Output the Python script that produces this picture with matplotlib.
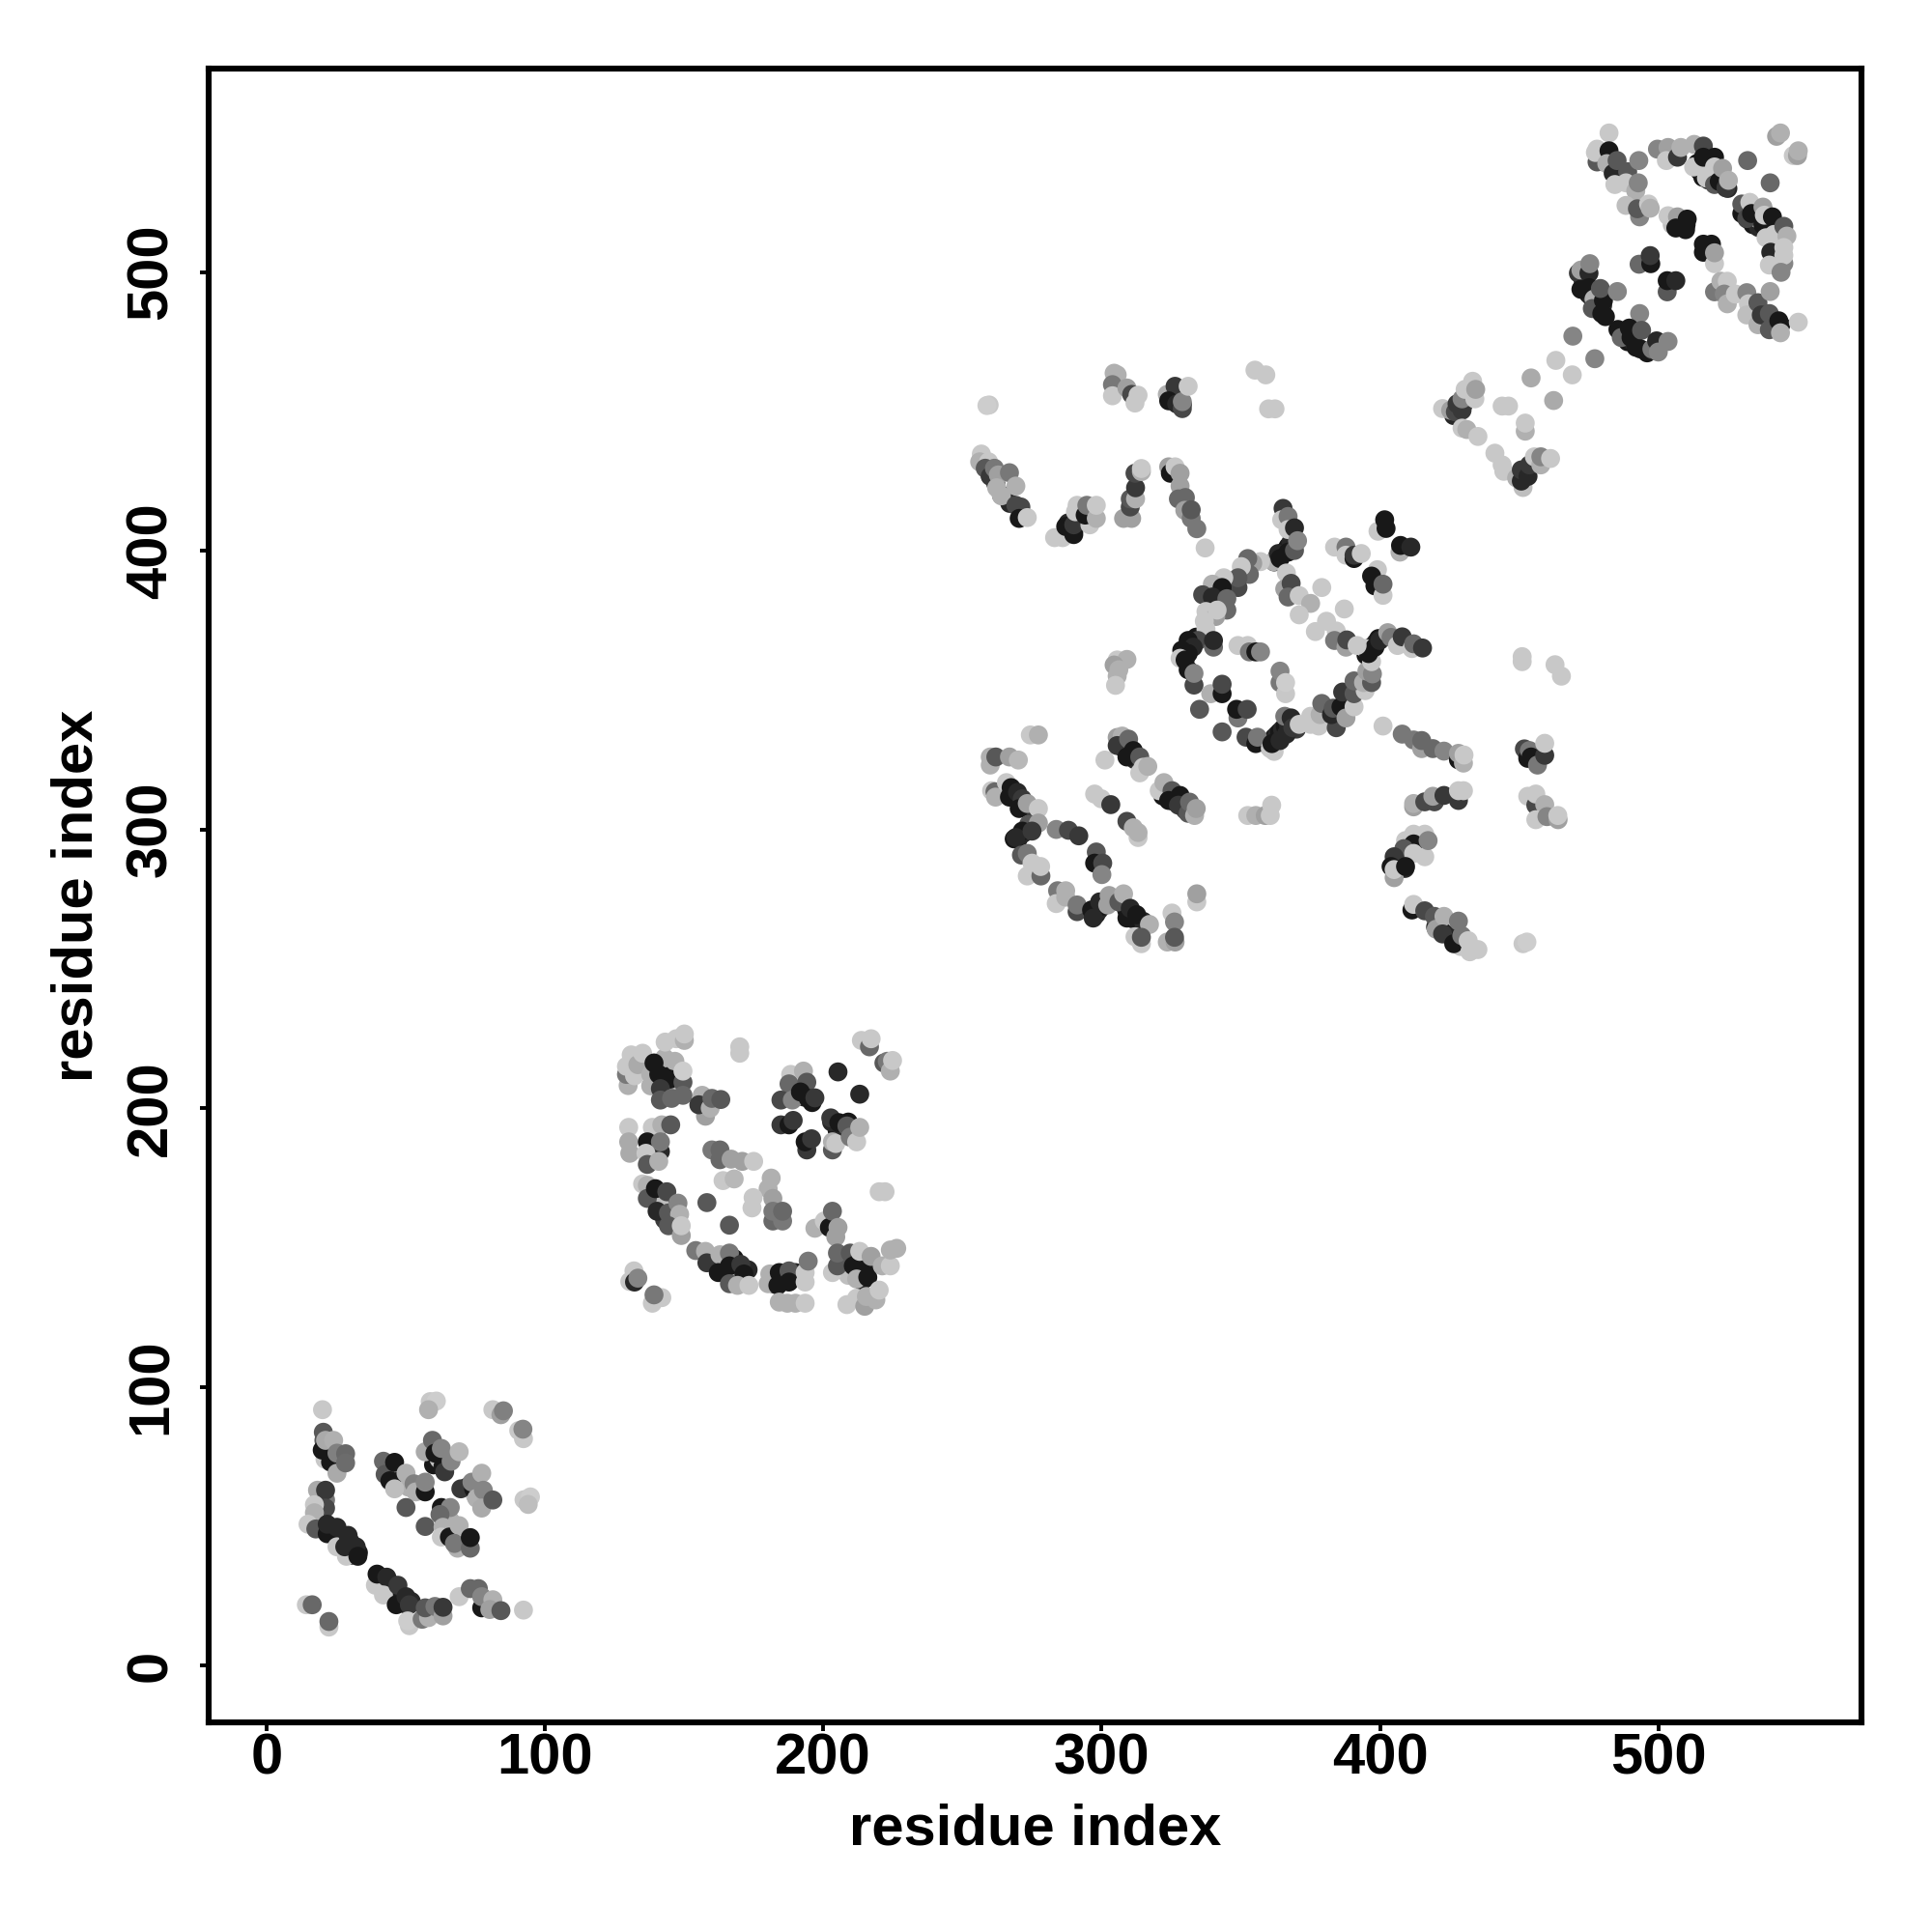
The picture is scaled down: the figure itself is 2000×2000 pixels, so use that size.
"""Residue contact map: grey dots for contacts, darker means stronger."""

import matplotlib
matplotlib.use("Agg")
import matplotlib.pyplot as plt
import numpy as np

plt.rcParams["font.family"] = ["Liberation Sans", "DejaVu Sans"]
plt.rcParams["font.weight"] = "bold"

TICKS = [0, 100, 200, 300, 400, 500]
AXIS_LABEL = "residue index"

# each row is residue x, residue y, grey level (0-255)
# dense runs sit underneath the rest, only their edges show in places
DENSE_RUNS = [
    (23, 49, 40), (24, 47.5, 30), (27, 46, 40), (27, 43.5, 30), (30, 44.5, 40), (31, 41, 30),
    (30, 39.5, 30), (33, 40.5, 24), (41, 31, 30), (42, 29, 24), (44, 30, 40), (45, 27, 30),
    (46, 26, 40), (48, 25, 30), (49, 23, 40), (50, 22, 30), (52, 23, 40),
    (44, 68, 190), (47, 66, 24), (51, 64, 176), (55, 63, 40), (60, 72, 24), (62, 74, 190),
    (72, 64, 40), (75, 61, 190), (64, 50, 24), (66, 52, 176), (67, 48, 24), (69, 45, 190),
    (21, 74, 200), (23, 73, 24), (20, 55, 190), (19, 52, 176),
    (138, 208, 176), (142, 214, 24), (144, 206, 24), (147, 206, 176), (143, 218, 176),
    (139, 182, 40), (138, 184, 190), (140, 190, 24), (143, 168, 24), (141, 166, 190),
    (146, 160, 24), (143, 160, 60), (168, 146, 24), (168, 141, 190), (173, 142, 40),
    (182, 137, 40), (186, 139, 24), (190, 141, 40), (206, 144, 40), (208, 146, 24), (212, 141, 24),
    (215, 142, 24), (214, 138, 40), (209, 140, 190), (192, 207, 24), (193, 204, 40), (196, 202, 24),
    (190, 204, 190), (205, 192, 24), (207, 191, 40), (209, 195, 24), (203, 195, 40),
    (268.5, 313, 24), (270, 312, 40), (271, 310, 24), (272.5, 309.5, 40), (274, 308, 60),
    (270, 296.5, 24), (271, 298, 40), (272.5, 299, 24), (274, 300.5, 40), (275, 302, 24), (276, 303.5, 60),
    (298, 269.5, 24), (299, 271, 40), (300.5, 272.5, 24), (301, 274, 40),
    (307, 274, 24), (308.5, 272.5, 40), (309, 271, 24), (311, 270, 40), (311, 268, 24), (313, 268, 40),
    (314, 267, 24), (315, 267, 40), (307, 331, 24), (308, 329, 40), (310, 327, 24), (312, 325, 40),
    (322, 312, 24), (326, 310, 24), (328, 309, 60), (330, 307, 72),
    (260, 427, 24), (262, 424, 40), (264, 420, 24), (267, 417, 40), (290, 407, 24), (288, 410, 40),
    (294, 412, 24), (325, 456, 24), (327, 454, 40), (329, 452.5, 24),
    (330, 362, 24), (331, 364, 40), (332, 366, 24), (333, 368, 40), (334, 369, 24), (329.5, 363.5, 40),
    (360, 330, 24), (361, 331.5, 40), (362, 333, 24), (363, 334, 40), (364, 335, 24), (365, 336, 40),
    (366, 337, 24), (367, 338, 40), (362, 328, 200), (370, 336, 60),
    (362, 396, 24), (363, 397.5, 40), (365, 399, 24), (366, 400, 40), (367, 401.5, 24), (368, 403, 40),
    (395, 362.5, 24), (396.5, 364, 40), (397, 365.5, 24), (398.5, 367, 40), (399.5, 368.5, 24),
    (407, 288, 24), (409, 291, 176), (412, 296, 24), (409, 286, 40),
    (420, 265, 40), (422, 264, 24), (425, 262, 40), (427, 260, 24), (429, 258, 200),
    (455, 327, 24), (456, 325, 40), (453, 327, 60),
    (426.5, 448.5, 40), (427.5, 450, 24), (428.5, 451.5, 40), (430, 452.5, 60),
    (450.5, 427, 40), (452, 428, 24), (453.5, 429.5, 40), (455, 431, 60),
    (473, 497, 24), (474, 495, 40), (475, 492, 24), (476, 491, 40), (477, 489, 24), (478, 487, 40),
    (479, 486, 24), (480, 488, 40), (481, 484, 24), (487, 477, 40), (489, 475, 24), (491, 475, 40),
    (492, 473, 24), (496, 471, 24), (498, 472, 40), (500, 473, 24), (479, 491, 190),
    (514, 539, 24), (515, 536, 40), (516, 534, 24), (518, 533, 40), (519, 535, 24), (521, 534, 40),
    (523, 532, 24), (525, 530, 40), (517, 537, 200), (522, 536, 200),
    (530, 521, 24), (532, 519, 40), (534, 517, 24), (536, 516, 40), (539, 517, 24), (542, 516, 40),
    (536, 519, 200), (534, 522, 160), (540, 515, 190),
    (536, 487, 40), (538, 483, 24), (541, 482, 40), (544, 481, 24), (486, 536, 24), (486, 533, 60),
    (510, 517, 24), (507, 517, 40), (505, 517, 190), (518, 508, 24),
]

DOMAIN_ONE = [
    (20.1, 91.8, 200), (58.8, 94.7, 200), (61, 94.9, 205), (58.2, 91.8, 176), (81.3, 91.8, 200),
    (84.2, 90, 160), (85.1, 91.4, 128), (90.6, 84.3, 200), (92.3, 81.4, 200), (92.1, 84.8, 133),
    (20.4, 83.7, 88), (20.6, 80.8, 88), (20, 77.3, 24), (21.2, 80.8, 170), (24.1, 80.8, 176),
    (25.3, 69, 170), (25.3, 76.2, 128), (28.4, 76, 104), (28.4, 72.7, 108),
    (42, 73.3, 104), (42.6, 68.6, 88), (44.3, 66.3, 24), (46, 63.4, 190), (46, 72.9, 24),
    (50.1, 69, 176), (53, 65.2, 128), (53.6, 62.3, 176), (57, 62.3, 24), (57, 65.8, 133),
    (50.1, 56.7, 88), (57, 76.7, 170), (59.6, 80.8, 104), (63.4, 71.5, 24), (60.5, 76.2, 24),
    (62.8, 77.9, 133), (64, 69.5, 56), (66.3, 73.3, 133), (69.2, 76.7, 184),
    (69.8, 63.4, 56), (74.4, 63.4, 24), (73.8, 65.8, 133), (77.3, 69, 176), (75.5, 60, 176),
    (77.9, 62.9, 133), (77.3, 56.5, 170), (81.3, 59.4, 88), (62.8, 56.7, 24), (66, 56.7, 133),
    (57, 49.9, 88), (62.3, 54.2, 104), (63.4, 49.6, 176), (62.8, 46.1, 200), (65.7, 46.1, 24),
    (69.2, 50.2, 176), (68.6, 42.1, 176), (67.5, 43.8, 120), (73.2, 42.1, 104), (73.2, 45.9, 24),
    (92.5, 59.5, 200), (94.8, 60.5, 205), (94, 57.8, 190),
    (18.3, 62.9, 170), (21.2, 59.4, 120), (21.2, 62.9, 56), (21.2, 56.5, 72), (17.2, 57.7, 200),
    (17.2, 54.8, 176), (14.9, 50.7, 200), (17.7, 49, 88), (21.8, 47.3, 24), (21.8, 50.7, 40),
    (25.3, 42.6, 200), (25.3, 49.6, 40), (29.3, 46.7, 40), (28.7, 39.2, 200), (28.1, 42.6, 40),
    (32.2, 42.6, 40), (32.8, 39.2, 24), (39.1, 28.8, 200), (39.7, 32.8, 24), (43.2, 31.7, 40),
    (42, 25.3, 200), (47.2, 28.8, 56), (46.6, 21.8, 24), (50.1, 24.7, 40), (51.3, 21.8, 56),
    (51.3, 14.3, 200), (50.7, 16, 205), (55.9, 16.6, 120), (58.2, 17.2, 176), (57, 20.7, 88),
    (60.5, 21.2, 120), (63.4, 17.8, 160), (63.4, 20.9, 56), (69.2, 24.7, 200), (73.2, 27.6, 104),
    (76.1, 27.6, 104), (77.3, 20.7, 24), (77.3, 24.7, 133), (81.3, 23.6, 176), (80.2, 20.1, 160),
    (84.2, 19.7, 88), (92.3, 19.9, 200), (14.3, 21.8, 200), (16.4, 21.8, 104), (22.4, 13.8, 200),
    (22.4, 15.8, 104),
]

DOMAIN_TWO = [
    (129.9, 208.1, 176), (129.3, 212.1, 120), (129.3, 215, 200), (132.2, 211.6, 200), (131, 219.1, 200),
    (133.4, 215.6, 170), (135.1, 219.7, 200), (143.2, 223.7, 200), (147.2, 224.9, 200), (150.1, 224.3, 176),
    (150.1, 226.6, 200), (138, 212.1, 176), (139.2, 216.2, 24), (140.9, 212.1, 24), (146.7, 216.8, 176),
    (144.9, 210.4, 24), (141.5, 207, 56), (141.5, 202.9, 88), (145.5, 203.5, 104), (149.6, 209.3, 88),
    (149.6, 204.6, 104), (149.6, 213.3, 205), (156.5, 204.6, 176), (157.7, 197.1, 160), (155.3, 201.2, 56),
    (159.4, 200, 176), (160, 203.5, 104), (163.2, 203.1, 88),
    (130.1, 193.1, 200), (130.1, 187.9, 170), (130.5, 183.8, 170), (138.6, 193.1, 200), (142, 194, 176),
    (145.2, 194, 88), (136.8, 187.9, 24), (141.5, 184.4, 40), (141.5, 187.9, 120), (136.3, 183.8, 200),
    (136.8, 179.8, 88), (140.9, 180.9, 176),
    (135.1, 172.8, 200), (136.8, 172.3, 176), (136.8, 167.6, 88), (139.7, 171.1, 24), (143.8, 170, 72),
    (140.3, 163, 40), (144.4, 162.4, 88), (147.8, 165.9, 133), (148.4, 161.9, 176), (144.4, 157.8, 88),
    (149, 154.3, 160), (149, 157.8, 200), (158.2, 166.1, 88), (166.3, 158, 88),
    (160, 185, 120), (162.9, 185, 104), (162.9, 181.5, 104), (166.9, 181.7, 160), (170.9, 180.9, 160),
    (175, 180.9, 200), (164, 174, 200), (168, 174.6, 184),
    (181.3, 174.9, 176), (180.2, 171.1, 176), (174.8, 167.9, 200), (174.4, 164.2, 200), (181.9, 167.6, 160),
    (181.9, 159.5, 104), (185.4, 159.5, 120), (181.9, 163, 120), (185.4, 163, 104),
    (170, 219.7, 200), (170, 222, 200),
    (188.3, 212.1, 200), (192.9, 213.3, 176), (187.7, 208.7, 104), (194.1, 209.3, 88), (184.8, 202.9, 72),
    (188.9, 202.9, 133), (191.8, 205.8, 24), (194.6, 203.5, 24), (197, 203.7, 56), (205.3, 213, 40),
    (213.1, 205, 40), (184.8, 194, 56), (187.7, 194, 24), (189.2, 195.6, 56),
    (194.1, 185, 56), (193.5, 187.9, 24), (195.8, 189, 56), (203.3, 185, 88), (203.3, 187.9, 176),
    (204.5, 187.3, 200), (202.7, 196.5, 56), (205.6, 194.8, 24), (208.5, 193.6, 88), (209.7, 189.6, 120),
    (212, 187.9, 200), (213.1, 193.1, 176),
    (213.7, 224.3, 200), (216.6, 222, 104), (217.2, 224.9, 200), (221.8, 216.2, 88), (223, 216.8, 120),
    (224.1, 213.3, 176), (224.9, 217.1, 200), (220.1, 170, 200), (222.2, 170, 200),
    (197, 156.9, 176), (200.4, 159.5, 200), (202.2, 157.2, 24), (203.3, 163, 104), (204.5, 153.8, 160),
    (205.3, 157.2, 160), (203.3, 141, 200), (205.1, 143.4, 88), (205.1, 148, 104), (209.7, 148, 88),
    (210.8, 143.4, 24), (212, 138.7, 176), (213.1, 145.7, 24), (213.1, 148.6, 200), (216, 139.3, 24),
    (217.2, 146.8, 160), (221.2, 143.4, 176), (224.1, 143.4, 200), (224.1, 149.1, 176), (226.4, 149.7, 176),
    (208.5, 129.5, 200), (212, 131.8, 200), (214.9, 128.9, 160), (215.5, 132.4, 176), (218.9, 131.2, 176),
    (220.1, 134.7, 200),
    (180.2, 137, 176), (180.8, 140.5, 176), (183.7, 136.4, 24), (184.2, 141, 24), (187.7, 141.6, 88),
    (187.7, 137.6, 24), (193.5, 137.6, 200), (193.5, 141, 200), (194.6, 145.1, 120),
    (184.2, 130.4, 176), (187.1, 130, 176), (190, 130, 176), (193.5, 130, 200),
    (154.2, 148.9, 120), (157.7, 148.6, 176), (158.2, 144.5, 56), (162.9, 147.4, 176), (166.3, 148, 120),
    (162.3, 141, 24), (166.3, 143.4, 24), (170.4, 143.9, 56), (166.3, 137, 88), (171.5, 140.5, 24),
    (169.2, 136.4, 176), (173.3, 136.4, 200),
    (132, 141.6, 200), (130.5, 137.8, 200), (132.2, 137.6, 40), (133.4, 139, 133), (142, 132, 200),
    (138.6, 130, 200), (139.2, 133, 120),
]

DOMAIN_THREE_LOW = [
    (274.4, 333.9, 200), (277.3, 333.9, 176), (260, 326, 176), (260, 323.1, 176), (262, 326, 88),
    (266.9, 326, 160), (270.1, 324.9, 184),
    (260.5, 313.9, 200), (261.7, 313.5, 104), (261.9, 311.6, 176), (265.8, 316.8, 200), (267.5, 315, 24),
    (266.9, 311.6, 24), (269.8, 313.3, 40), (271.5, 311, 56), (270.4, 307.5, 24), (273.3, 309.3, 160),
    (277.3, 307.5, 200), (273.8, 301.8, 88), (277.3, 302.3, 160), (272.1, 298.9, 40), (268.6, 296.6, 24),
    (271.5, 299.4, 24), (269.2, 297.1, 40), (275, 299.4, 56),
    (271.2, 290.8, 88), (273.3, 291.4, 120), (275, 287.9, 200), (273.3, 283.3, 200), (278.2, 283.3, 104),
    (278.1, 286.7, 200),
    (284.2, 278, 120), (283.7, 273.4, 200), (287.1, 278, 176), (287.1, 275.7, 176), (291.2, 270.5, 72),
    (291.2, 272.9, 120), (283.7, 300, 133), (288.1, 299.7, 72), (291.8, 297.7, 56),
    (298.1, 291.9, 88), (297.5, 287.9, 24), (300.4, 287.9, 72), (300.1, 283.8, 133),
    (296.4, 271.1, 24), (297, 268.2, 40), (299.3, 274, 40), (302.7, 276.3, 160), (302.2, 272.9, 160),
    (306.2, 274, 88), (307.9, 276.9, 176), (309.1, 268.2, 24), (310.3, 271.7, 40), (312.6, 269.4, 24),
    (317.2, 265.9, 176), (312, 261.5, 200), (314.3, 259, 200), (314.3, 261.3, 88),
    (325.3, 270, 200), (326.2, 266.8, 133), (323.6, 259.6, 176), (326.4, 259.6, 160), (326.2, 261.3, 88),
    (334.2, 274, 200), (334.2, 276.9, 160),
    (297.5, 312.7, 200), (299.9, 311, 200), (303.3, 308.9, 56), (309.1, 302.9, 72), (311.4, 300.6, 176),
    (313.1, 297.1, 200), (313.1, 298.9, 176), (301.2, 324.9, 200),
    (305.6, 333, 160), (307.4, 333.5, 176), (305.6, 330.1, 56), (309.7, 332.4, 104), (309.1, 326, 24),
    (311.4, 328.3, 24), (313.7, 326, 88), (313.7, 320.3, 200), (314.9, 322.3, 200), (316.6, 322.6, 176),
    (320.7, 313.9, 200), (322.4, 316.8, 176), (325.3, 313.9, 88), (324.1, 310.4, 24), (328.2, 312.2, 24),
    (327.6, 308.7, 56), (331.1, 305.8, 88), (331.6, 309.8, 104), (333.4, 305, 176), (334, 307.5, 160),
    (352.5, 305, 200), (355.4, 305, 176), (358.8, 305, 160), (360.6, 305, 200), (361.1, 308.7, 200),
]

DOMAIN_THREE_HIGH = [
    (259.6, 452.3, 200), (258.8, 452.1, 205), (304.5, 463.7, 176), (305.6, 463.1, 176), (303.9, 459.6, 120),
    (303.9, 455.6, 200), (309.1, 458.4, 160), (310.8, 456.1, 72), (313.1, 455.8, 200), (312, 453, 200),
    (323.6, 456.1, 176), (326.4, 459, 56), (324.1, 453.8, 24), (327, 452.7, 40), (329, 451, 72),
    (329, 453.5, 133), (331.1, 459, 200), (355.1, 464.8, 200), (359, 463.1, 200), (360, 450.9, 200),
    (362.3, 450.9, 200),
    (256.8, 434.7, 200), (256.2, 431.9, 176), (259.4, 431.9, 200), (258.2, 429.6, 88), (260, 426.7, 56),
    (261.5, 429.6, 120), (262.9, 427.2, 160), (266.9, 428, 120), (262.3, 422.6, 176), (264, 419.7, 176),
    (269.2, 423.2, 176), (269.2, 416.3, 72), (271, 415.7, 72), (270.4, 411.6, 24), (273.3, 411.9, 200),
    (283.1, 404.7, 200), (286, 404.7, 200), (287.1, 408.7, 24), (290, 405.8, 24), (290, 409.3, 56),
    (290.6, 414, 200), (291.2, 416.3, 200), (295.8, 409.3, 200), (294.1, 412.8, 24), (294.7, 416.3, 120),
    (298.1, 411.6, 176), (298.1, 416.3, 200),
    (307.9, 411.6, 160), (310.8, 411.6, 160), (310.3, 415.7, 72), (310.3, 418.6, 88), (312.2, 418.6, 176),
    (312.2, 422.6, 56), (312, 427.8, 72), (314.3, 428.4, 176), (314.3, 429.5, 200),
    (324.1, 430.1, 160), (324.7, 427.8, 24), (326.4, 430.1, 200), (328.2, 427.8, 160), (328.2, 423.2, 160),
    (327.6, 418.6, 104), (330.1, 419.1, 104), (329.9, 414.5, 160), (332.2, 411.6, 120), (332.2, 414.7, 88),
    (334.2, 407.9, 120), (337.2, 401, 200),
    (305.6, 360.8, 200), (309.1, 361, 176), (304.5, 359, 160), (306.2, 357.3, 176), (305.6, 355, 176),
    (305, 351.7, 200),
]

RING = [
    (365.2, 415.2, 56), (364.7, 411.1, 200), (367, 412.3, 120), (367, 407.6, 200), (369.3, 408.2, 40),
    (361.8, 396.1, 176), (363.5, 399, 40), (364.1, 397.2, 24), (367, 399.5, 24), (369.3, 400.1, 88),
    (370.4, 403.6, 133), (357.1, 396.1, 200), (354.3, 395.5, 160), (352.5, 397.2, 104), (353.1, 391.5, 104),
    (350.2, 394.3, 200), (349, 386.8, 72), (349, 390.3, 88), (343.9, 390.3, 200), (339.8, 388, 176),
    (343.3, 386.8, 24), (336.3, 384.2, 72), (339.8, 383.4, 40), (345, 382.8, 104), (345, 378.7, 104),
    (337.5, 378.2, 200), (341, 376.4, 160), (341.5, 378.7, 200), (336.9, 374.7, 200), (337.5, 371.8, 200),
    (334.6, 367.8, 72), (331.1, 367.8, 24), (332.9, 365.4, 40), (328.8, 364.3, 24), (331.1, 363.1, 24),
    (328.2, 361.4, 200), (330, 360.8, 24), (331.1, 357.3, 24), (333.2, 351.8, 72), (333.2, 356, 133),
    (340.2, 365.4, 104), (340.2, 367.8, 40),
    (349, 366, 200), (352.5, 366, 200), (353.1, 363.7, 120), (355.4, 363.7, 24), (357.1, 363.7, 133),
    (364.1, 352.7, 120), (364.1, 356.8, 133), (366.1, 348.7, 200), (366.1, 352.7, 205),
    (339.2, 348.7, 176), (343.3, 348.7, 24), (343.3, 352.1, 72), (335.2, 343.1, 88), (349, 340, 120),
    (348.5, 343.1, 24), (352.3, 343.1, 72), (343.3, 335, 88),
    (351.9, 333.1, 72), (355.4, 330.8, 24), (356, 333.1, 120), (360.6, 329, 200), (361.2, 330.8, 24),
    (364.1, 331.9, 40), (366.4, 334.2, 40), (365.8, 340.6, 120), (368.1, 340, 40), (368.7, 336.5, 56),
    (371, 337.7, 200), (375.1, 337.7, 200), (375.1, 340.6, 200), (378, 337.1, 200), (378.5, 341.2, 176),
    (379.1, 345.2, 104), (384.3, 336.5, 72), (382.6, 341.2, 40), (383.2, 343.5, 88), (386, 344, 24),
    (387.8, 340, 160), (390.7, 344, 200), (386.6, 349.3, 56), (390.7, 348.7, 88), (394.7, 349.8, 200),
    (390.7, 353.3, 104), (394.1, 352.7, 176), (397, 352.7, 88), (395.3, 356.8, 160), (397.3, 355.8, 133),
    (397, 360.2, 200), (394.7, 364.9, 200), (395.9, 363.1, 24), (398.2, 365.4, 24), (399.9, 367.8, 40),
    (402.8, 370.6, 160), (404, 368.9, 120), (406.3, 366, 200), (408, 369.1, 56), (411.5, 364.9, 200),
    (412.1, 366.6, 104), (415.3, 365.1, 56),
    (383.7, 401.3, 200), (387.8, 401.3, 120), (387.8, 398.4, 200), (390.7, 397.2, 24), (390.7, 398.4, 56),
    (393.3, 399, 200),
    (399.3, 407, 200), (401.7, 411.1, 24), (402.2, 408, 24), (407.2, 399.5, 176), (407.4, 401.9, 24),
    (411.1, 401.3, 40), (399.1, 393.2, 200), (397, 390.9, 24), (398.2, 387.4, 24), (401.1, 384, 200),
    (401.1, 388, 104),
    (366.4, 392, 200), (365.8, 386.3, 160), (368.1, 388.3, 72), (367, 383.4, 104), (371, 383.9, 200),
    (375.1, 381.1, 176), (371, 377, 200), (379.1, 386.8, 200), (387.2, 379.1, 200),
    (380.8, 374.7, 200), (376.8, 371, 200), (384.3, 371.2, 200), (383.7, 367.8, 120), (387.8, 365.4, 160),
    (388.1, 368, 72), (391.8, 366, 200), (401.1, 337.1, 200),
    (408, 334.2, 120), (412.1, 332.1, 120), (415, 329, 160), (415, 331.9, 104), (419, 329, 104),
    (423, 328.1, 133), (428.2, 325, 24), (428.2, 327.3, 160), (430, 323.8, 176), (430.2, 326.7, 200),
    (451.1, 362, 200), (451.1, 360.2, 200), (462.9, 359.1, 200), (465.2, 355, 200),
]

RIGHT_OF_RING = [
    (451.9, 328.9, 72), (453.1, 325.5, 24), (453.7, 328.3, 120), (454.3, 326, 24), (456.6, 323.1, 120),
    (459.2, 326.6, 56), (459.2, 330.9, 200),
    (453.1, 311.9, 200), (456, 308.7, 72), (456, 312.7, 200), (459.2, 308.9, 176), (456, 303.5, 200),
    (460, 304.6, 133), (464, 303.5, 160), (463.9, 305, 200),
    (412.1, 308.1, 160), (412.1, 309.3, 176), (416.1, 309.9, 72), (419.6, 309.9, 72), (419, 311.9, 160),
    (423, 312.2, 56), (428.2, 310.4, 56), (428.2, 313.9, 200), (430, 313.9, 200),
    (412.1, 298.3, 200), (416.1, 298.3, 200), (409.2, 296, 200), (412.1, 294.8, 24), (408.6, 293.1, 88),
    (405.1, 290.2, 56), (412.1, 291.4, 200), (416.1, 290.2, 200), (417.3, 296, 133), (404, 286.7, 24),
    (405.1, 282.7, 160), (405.1, 285.6, 200), (409.2, 286.7, 24),
    (411.5, 271.1, 24), (412.1, 273.1, 200), (416.1, 270.8, 72), (419.6, 268.8, 88), (420.2, 264.2, 160),
    (423, 268.8, 176), (422.5, 262.5, 56), (426.5, 259, 24), (428.2, 267.1, 120), (429.4, 261.9, 120),
    (431.7, 260.1, 200), (432.3, 256.1, 200), (435.2, 256.9, 200), (451.4, 259, 200), (452.8, 259.6, 205),
]

LINK_TO_TOP = [
    (422.5, 451, 200), (425.4, 450.4, 160), (427.1, 449.8, 72), (427.7, 452.7, 56), (429.5, 450.4, 56),
    (429.5, 454.5, 133), (430.6, 457.9, 200), (433.3, 460.8, 200), (434.1, 454.5, 200), (434.4, 457.9, 160),
    (429.5, 444, 200), (431.2, 443.5, 176), (435.2, 441, 200), (443.9, 451.9, 200), (446.2, 451.9, 200),
    (452.2, 442.9, 176), (452.2, 445.8, 200), (454.3, 462, 170), (462.4, 453.9, 170), (463.2, 468.3, 200),
    (469.1, 463.1, 200), (477.2, 468.9, 133), (469.3, 477, 133),
    (441.3, 435, 200), (443.9, 430.8, 200), (444.5, 428.5, 200), (451.4, 422.7, 190), (449.1, 426.1, 176),
    (450.8, 425, 40), (450.8, 429, 56), (453.2, 426.7, 40), (453.7, 430.8, 56), (455.5, 433.7, 200),
    (457.8, 430.8, 176), (457.8, 433.7, 133), (461.3, 433.1, 200),
]

DOMAIN_FOUR = [
    (482.3, 549.9, 200), (478, 539.5, 88), (478, 544.1, 200), (477.4, 542.9, 200), (482.3, 543.5, 24),
    (481.5, 538.9, 176), (483.8, 535.4, 40), (485.2, 540, 88), (484.4, 531.4, 200), (489, 536, 88),
    (493, 540, 133), (488.4, 532, 200), (491.9, 529.1, 176), (492.8, 532, 133),
    (488.4, 523.9, 190), (493.3, 519.8, 133), (492.5, 522.7, 88), (496.5, 524.4, 200), (497.1, 522.9, 176),
    (499.7, 544.1, 133), (503.5, 544.7, 160), (502.9, 540, 200), (506.9, 541.2, 56), (508.1, 544.7, 176),
    (512.7, 537.7, 200), (512.9, 545.8, 176), (516.2, 545.2, 72), (516.2, 541.2, 24), (520.2, 541.2, 24),
    (517.3, 533.7, 200), (520.2, 537.7, 200), (520.2, 531.4, 88), (521.9, 532.5, 24), (524.3, 530.2, 56),
    (523.1, 537.2, 160), (525.2, 532.9, 176), (532.1, 540, 104), (540.2, 532, 104),
    (542.5, 548.7, 160), (543.9, 549.9, 176), (548.5, 541.8, 200), (550, 541.8, 160), (550.3, 543.5, 176),
    (530, 524.4, 88), (531.8, 519.2, 72), (532.9, 525, 200), (533.5, 521, 24), (537.6, 516.9, 24),
    (537.6, 523.3, 160), (538.1, 520.4, 200), (541, 519.8, 24), (538.7, 512.3, 200), (541.6, 513.5, 200),
    (545.1, 516.4, 88), (546.2, 512.9, 176), (540.4, 507.1, 40), (545.1, 503.1, 133), (545.1, 506, 200),
    (545.1, 508.8, 200), (539.9, 502.5, 200), (544.1, 499.9, 133),
    (503.5, 520.2, 200), (506.9, 519.8, 160), (506.3, 515.8, 24), (509.8, 515.2, 24), (510.4, 519, 24),
    (516.2, 507.1, 24), (516.2, 510, 24), (519.1, 510, 24), (520.2, 503, 200), (520.2, 506.9, 160),
    (493.1, 502.8, 104), (497.3, 503, 24), (497.1, 505.9, 56), (503.2, 492.9, 88), (503.2, 496.9, 24),
    (506.3, 496.9, 40),
    (471.3, 499.6, 56), (472.2, 500.7, 160), (475.1, 499.6, 40), (475.4, 503, 133), (472.2, 493.8, 24),
    (475.1, 494.4, 24), (476.9, 490.3, 176), (476.3, 486.9, 88), (479.7, 485.1, 24), (480.3, 489.8, 24),
    (479.2, 494.1, 88), (485.3, 493, 133),
    (493.3, 485.1, 133), (485.5, 479.4, 24), (486.7, 476.5, 104), (489.6, 479.9, 24), (490.2, 476.5, 24),
    (494, 479.1, 88), (493.6, 472.4, 24), (497.7, 472.4, 120), (499.4, 475.3, 40), (500, 471.3, 133),
    (503.5, 475.1, 133),
    (520.2, 492.9, 120), (522.5, 496.7, 176), (524.8, 496.7, 200), (523.7, 492.1, 133), (524.8, 488.6, 176),
    (527.7, 492.1, 200), (531.8, 492.6, 133), (532.4, 488.6, 200), (531.8, 484.6, 190), (535.8, 489, 88),
    (535.8, 481.1, 176), (537, 484.6, 56), (539.9, 485.1, 88), (540.2, 493, 160), (539.9, 479.3, 88),
    (543.3, 482.5, 24), (543.9, 478.2, 176), (550.3, 482, 200),
]

DOMAINS = [DENSE_RUNS, DOMAIN_ONE, DOMAIN_TWO, DOMAIN_THREE_LOW, DOMAIN_THREE_HIGH,
           RING, RIGHT_OF_RING, LINK_TO_TOP, DOMAIN_FOUR]


def main() -> None:
    figure = plt.figure(figsize=(10, 10), dpi=200)
    axis = figure.add_axes([0.108, 0.1085, 0.8555, 0.856])

    for domain in DOMAINS:
        rows = np.array(domain, dtype=float)
        greys = [str(level / 255) for level in rows[:, 2]]
        axis.scatter(rows[:, 0], rows[:, 1], s=50, c=greys, linewidths=0, clip_on=False)

    axis.set_xlim(-20.8, 573)
    axis.set_ylim(-20.4, 573)
    axis.set_xticks(TICKS)
    axis.set_yticks(TICKS)
    axis.tick_params(length=3.4, width=1.4, labelsize=21.5)
    axis.tick_params(axis="x", pad=0.5)
    axis.tick_params(axis="y", pad=8)
    for label in axis.get_yticklabels():
        label.set_rotation(90)
        label.set_verticalalignment("center")
    for spine in axis.spines.values():
        spine.set_linewidth(2.2)
    axis.set_xlabel(AXIS_LABEL, fontsize=21.5, fontweight="bold", labelpad=6.5)
    axis.set_ylabel(AXIS_LABEL, fontsize=21.5, fontweight="bold", labelpad=8)

    figure.savefig("out.png", dpi=200, facecolor="white")
    plt.close(figure)


if __name__ == "__main__":
    main()
